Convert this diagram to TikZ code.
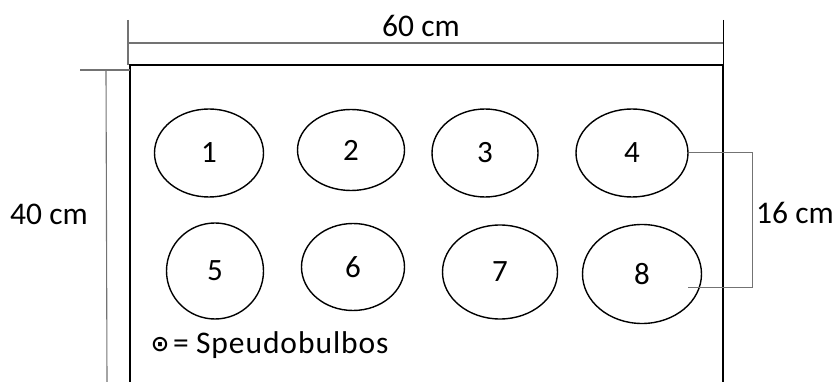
\documentclass[tikz,border=0pt]{standalone}
\usepackage{fontspec}
\setmainfont{Carlito}
\newfontfamily\symfont{DejaVu Sans}
\usetikzlibrary{shapes.geometric}
\begin{document}
\begin{tikzpicture}[x=1pt,y=-1pt,
  pot/.style={draw=black,line width=1.4pt,ellipse,inner sep=0pt,font=\fontsize{31}{31}\selectfont},
  dim/.style={draw=black!55,line width=1.1pt},
  lbl/.style={font=\fontsize{31.5}{31.5}\selectfont,inner sep=0pt}]
\useasboundingbox (0,0) rectangle (836,382);
\clip (0,0) rectangle (836,382);
% frame
\draw[line width=1.8pt] (130,400) -- (130,65) -- (723,65) -- (723,400);
% top dimension
\draw[dim] (128,20) -- (128,65);
\draw[dim] (128,43) -- (723,43);
\draw[line width=1pt] (723,20) -- (723,65);
\node[lbl] (t60) at (421,26) {60 cm};
% left dimension
\draw[dim] (80,70) -- (130,70);
\draw[dim] (106,70) -- (107,382);
\node[lbl] (t40) at (49,214) {40 cm};
% pots
\node[pot,minimum width=109pt,minimum height=88pt] (e1) at (209,153) {1};
\node[pot,minimum width=107pt,minimum height=81pt] (e2) at (351,150) {2};
\node[pot,minimum width=106pt,minimum height=88pt] (e3) at (485,153) {3};
\node[pot,minimum width=112pt,minimum height=88pt] (e4) at (632,153) {4};
\node[pot,minimum width=97pt,minimum height=96pt] (e5) at (215,271) {5};
\node[pot,minimum width=103pt,minimum height=87pt] (e6) at (353,267) {6};
\node[pot,minimum width=115pt,minimum height=94pt] (e7) at (500,272) {7};
\node[pot,minimum width=119pt,minimum height=99pt] (e8) at (642,274) {8};
% 16 cm dimension
\coordinate (k) at (752,288);
\coordinate (k8) at (688,288);
\draw[dim,line width=1pt] (e4.east) -| (k) -- (k8);
\node[lbl] (t16) at (795,213) {16 cm};
% legend
\node[inner sep=0pt,font=\symfont\bfseries\fontsize{22}{22}\selectfont] (sym) at (160,345) {⊙};
\node[lbl,anchor=base west] (leg) at (173,353) {= \addfontfeature{LetterSpace=3}Speudobulbos};
\end{tikzpicture}
\end{document}
